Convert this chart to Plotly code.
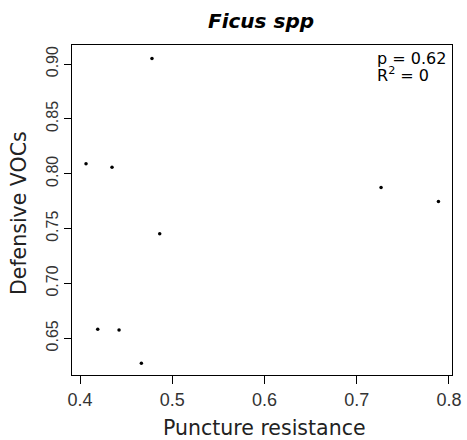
import plotly.graph_objects as go

puncture_resistance = [0.4065, 0.4347, 0.4864, 0.7264, 0.7886, 0.4192, 0.4423, 0.4665, 0.478]
defensive_vocs = [0.8091, 0.806, 0.7454, 0.7875, 0.7747, 0.6582, 0.6576, 0.6271, 0.9052]
x_ticks = [0.4, 0.5, 0.6, 0.7, 0.8]
y_ticks = [0.65, 0.70, 0.75, 0.80, 0.85, 0.90]
title_text = "<b><i>Ficus spp</i></b>"
x_title = "Puncture resistance"
y_title = "Defensive VOCs"
stats_lines = ["p = 0.62", "R<sup>2</sup> = 0"]

W, H = 467, 440
L, R, T, B = 72, 15, 45, 65
PW, PH = W - L - R, H - T - B
TEXT_FONT = "DejaVu Sans"
TICK_FONT = "Liberation Sans"


def px_x(px):
    return (px - L) / PW


def px_y(py):
    return 1 - (py - T) / PH


fig = go.Figure()
fig.add_trace(go.Scatter(
    x=puncture_resistance, y=defensive_vocs, mode="markers",
    marker=dict(color="black", size=3.5), showlegend=False, hoverinfo="skip"))

fig.update_layout(
    width=W, height=H,
    margin=dict(l=L, r=R, t=T, b=B, autoexpand=False),
    paper_bgcolor="white", plot_bgcolor="white",
    font=dict(family=TEXT_FONT, color="black", size=16),
)
fig.update_xaxes(
    range=[0.3913, 0.8033], tickvals=x_ticks, ticktext=[f"{v:.1f}" for v in x_ticks],
    ticks="outside", ticklen=8, tickcolor="black", tickwidth=1,
    showline=True, linecolor="black", linewidth=1, mirror=True,
    showgrid=False, zeroline=False, automargin=False,
    tickfont=dict(family=TICK_FONT, size=18, color="#333"),
)
fig.update_yaxes(
    range=[0.6165, 0.9174], tickvals=y_ticks, ticktext=[f"{v:.2f}" for v in y_ticks],
    ticks="outside", ticklen=7, tickcolor="black", tickwidth=1, tickangle=-90,
    showline=True, linecolor="black", linewidth=1, mirror=True,
    showgrid=False, zeroline=False, automargin=False,
    tickfont=dict(family=TICK_FONT, size=16, color="#333"),
)

# title
fig.add_annotation(x=px_x(261), y=px_y(21), xref="paper", yref="paper",
                   text=title_text, showarrow=False, xanchor="center", yanchor="middle",
                   font=dict(family=TEXT_FONT, size=20, color="black"))
# axis titles
fig.add_annotation(x=px_x(264), y=px_y(428), xref="paper", yref="paper",
                   text=x_title, showarrow=False, xanchor="center", yanchor="middle",
                   font=dict(family=TEXT_FONT, size=20.5, color="#222"))
fig.add_annotation(x=px_x(19), y=px_y(213), xref="paper", yref="paper",
                   text=y_title, showarrow=False, xanchor="center", yanchor="middle",
                   textangle=-90, font=dict(family=TEXT_FONT, size=20.5, color="#222"))
# stats
fig.add_annotation(x=px_x(375), y=px_y(58), xref="paper", yref="paper",
                   text=stats_lines[0], showarrow=False, xanchor="left", yanchor="middle",
                   font=dict(family=TEXT_FONT, size=16, color="black"))
fig.add_annotation(x=px_x(375), y=px_y(74), xref="paper", yref="paper",
                   text=stats_lines[1], showarrow=False, xanchor="left", yanchor="middle",
                   font=dict(family=TEXT_FONT, size=16, color="black"))

fig.write_html("out.html", config={"displayModeBar": False},
               post_script="document.body.style.margin='0';")
